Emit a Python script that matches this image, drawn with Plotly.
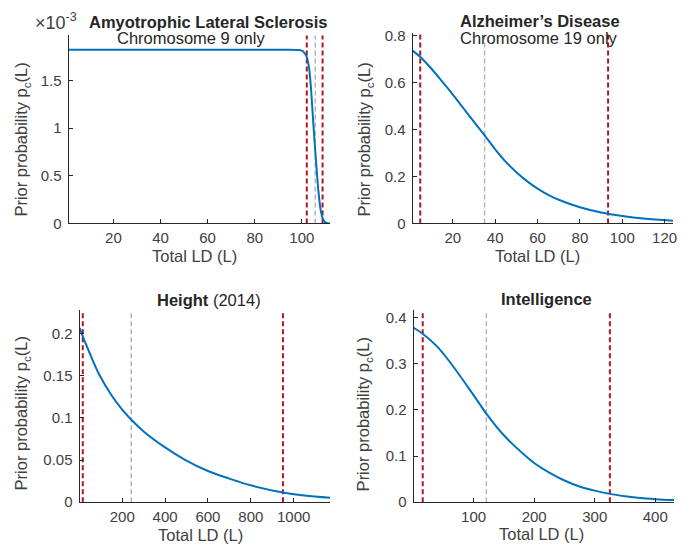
import plotly.graph_objects as go

# page body has an 8px margin: the figure is drawn inside it
OFF = 8
W, H = 690 - OFF, 555 - OFF

# ---------------- data ----------------
als_x = [1, 60, 90, 98, 100, 101, 102, 103, 103.6, 104, 105, 106, 106.5, 107, 108, 109, 110, 111, 112]
als_y = [1.82e-3, 1.82e-3, 1.82e-3, 1.818e-3, 1.81e-3, 1.79e-3, 1.75e-3, 1.64e-3, 1.50e-3, 1.38e-3,
         1.00e-3, 0.66e-3, 0.50e-3, 0.35e-3, 0.14e-3, 0.045e-3, 0.012e-3, 0.004e-3, 0.001e-3]
als_red = [102.1, 108.8]
als_grey = [105.7]

alz_x = [1, 5, 10, 15, 20, 25, 30, 35, 40, 45, 50, 55, 60, 65, 70, 80, 90, 100, 110, 124]
alz_y = [0.735, 0.705, 0.657, 0.603, 0.548, 0.490, 0.432, 0.375, 0.315, 0.262, 0.218, 0.180,
         0.148, 0.122, 0.101, 0.069, 0.047, 0.032, 0.021, 0.012]
alz_red = [4.6, 93.3]
alz_grey = [35]

hgt_x = [1, 16, 50, 92, 150, 200, 246, 300, 400, 495, 600, 700, 800, 950, 1050, 1170]
hgt_y = [0.207, 0.197, 0.176, 0.152, 0.127, 0.110, 0.097, 0.084, 0.065, 0.050, 0.037, 0.028,
         0.020, 0.0115, 0.008, 0.0053]
hgt_red = [16, 950]
hgt_grey = [242]

iq_x = [1, 16, 40, 63, 100, 121, 150, 186, 200, 225, 250, 275, 300, 325, 350, 375, 400, 431]
iq_y = [0.378, 0.365, 0.337, 0.300, 0.232, 0.192, 0.145, 0.100, 0.085, 0.064, 0.047, 0.034,
        0.025, 0.018, 0.013, 0.009, 0.0065, 0.0045]
iq_red = [16, 325]
iq_grey = [121]

# ---------------- layout helpers (window pixels -> paper) ----------------
def px(x):
    return (x - OFF) / W

def py(y):
    return 1 - (y - OFF) / H

BLUE = "#0072BD"
RED = "#B0141E"
GREY = "#B5B5B5"
AX = "#262626"
FONT = "Liberation Sans, Arial, Helvetica, sans-serif"

panels = [
    dict(x=als_x, y=als_y, red=als_red, grey=als_grey, box=(69, 332, 30, 223),
         xr=[1, 112], yr=[0, 1.97e-3], xt=[20, 40, 60, 80, 100],
         yt=[0, 0.5e-3, 1e-3, 1.5e-3], ytt=["0", "0.5", "1", "1.5"]),
    dict(x=alz_x, y=alz_y, red=alz_red, grey=alz_grey, box=(415, 677, 27, 223),
         xr=[1, 124], yr=[0, 0.812], xt=[20, 40, 60, 80, 100, 120],
         yt=[0, 0.2, 0.4, 0.6, 0.8], ytt=["0", "0.2", "0.4", "0.6", "0.8"]),
    dict(x=hgt_x, y=hgt_y, red=hgt_red, grey=hgt_grey, box=(80, 332, 312, 509),
         xr=[1, 1170], yr=[0, 0.228], xt=[200, 400, 600, 800, 1000],
         yt=[0, 0.05, 0.1, 0.15, 0.2], ytt=["0", "0.05", "0.1", "0.15", "0.2"]),
    dict(x=iq_x, y=iq_y, red=iq_red, grey=iq_grey, box=(416, 678, 312, 509),
         xr=[1, 431], yr=[0, 0.416], xt=[100, 200, 300, 400],
         yt=[0, 0.1, 0.2, 0.3, 0.4], ytt=["0", "0.1", "0.2", "0.3", "0.4"]),
]

fig = go.Figure()
shapes = []
layout = {}
for i, p in enumerate(panels, start=1):
    xa = "x" if i == 1 else f"x{i}"
    ya = "y" if i == 1 else f"y{i}"
    l, r, t, b = p["box"]
    fig.add_trace(go.Scatter(x=p["x"], y=p["y"], mode="lines", xaxis=xa, yaxis=ya,
                             line=dict(color=BLUE, width=2, shape="spline", smoothing=1.0),
                             showlegend=False, hoverinfo="skip", cliponaxis=True))
    for xv in p["red"]:
        shapes.append(dict(type="line", xref=xa, yref=f"{ya} domain", x0=xv, x1=xv, y0=0, y1=1,
                           line=dict(color=RED, width=2, dash="5px,3px"), layer="below"))
    for xv in p["grey"]:
        shapes.append(dict(type="line", xref=xa, yref=f"{ya} domain", x0=xv, x1=xv, y0=0, y1=1,
                           line=dict(color=GREY, width=1.5, dash="5px,3px"), layer="below"))
    common = dict(showline=True, linecolor=AX, linewidth=1, mirror=False, showgrid=False,
                  zeroline=False, ticks="inside", ticklen=4, tickcolor=AX, tickwidth=1,
                  tickfont=dict(family=FONT, size=15, color="#404040"))
    layout["xaxis" if i == 1 else f"xaxis{i}"] = dict(
        domain=[px(l), px(r)], range=p["xr"], tickvals=p["xt"], anchor=ya,
        ticklabelstandoff=1, **common)
    layout["yaxis" if i == 1 else f"yaxis{i}"] = dict(
        domain=[py(b), py(t)], range=p["yr"], tickvals=p["yt"], ticktext=p["ytt"], anchor=xa,
        ticklabelstandoff=3, **common)

TXT = "#262626"
ann = []
def add(text, x, y, size=16.5, angle=0, xanchor="center", color=TXT):
    ann.append(dict(text=text, x=px(x), y=py(y), xref="paper", yref="paper", showarrow=False,
                    xanchor=xanchor, yanchor="middle", textangle=angle,
                    font=dict(family=FONT, size=size, color=color)))

# titles
add("<b>Amyotrophic Lateral Sclerosis</b>", 209, 16)
add("Chromosome 9 only", 192, 33)
add("<b>Alzheimer’s Disease</b>", 543, 15)
add("Chromosome 19 only", 542, 33)
add("<b>Height</b> (2014)", 210, 301)
add("<b>Intelligence</b>", 550, 300)
add("×10<sup>-3</sup>", 33, 16, size=18, xanchor="left", color="#404040")

# axis titles
for xc, yc in [(196, 256), (541, 256), (202, 543), (545, 542)]:
    add("Total LD (L)", xc, yc, color="#404040")
for xc, yc in [(22, 137), (367, 137), (22, 418), (367, 419)]:
    add("Prior probability p<sub>c</sub>(L)", xc, yc, angle=-90, color="#404040")

fig.update_layout(width=W, height=H, margin=dict(l=0, r=0, t=0, b=0),
                  paper_bgcolor="white", plot_bgcolor="white",
                  shapes=shapes, annotations=ann, **layout)

fig.write_html("out.html")
